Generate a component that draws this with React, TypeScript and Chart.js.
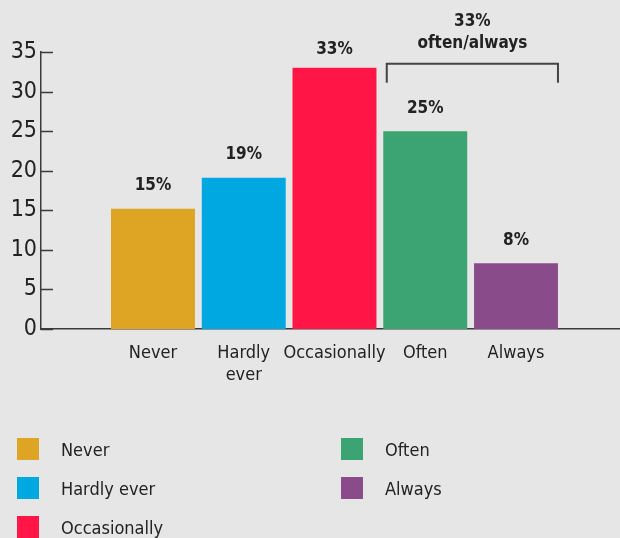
import React, { useEffect, useRef } from "react";
import { Chart, registerables } from "chart.js";
Chart.register(...registerables);

const categories = ["Never", "Hardly ever", "Occasionally", "Often", "Always"];
const tickLabels = [["Never"], ["Hardly", "ever"], ["Occasionally"], ["Often"], ["Always"]];
const values = [15.2, 19.1, 33, 25, 8.3];
const colors = ["#dea423", "#00a8e2", "#ff1546", "#3ca472", "#8a4b8a"];
const yTicks = [0, 5, 10, 15, 20, 25, 30, 35];
const groupLines = ["33%", "often/always"];
const groupRange = [3, 4];
const legendColumns = [[0, 1, 2], [3, 4]];

const FONT = '"Liberation Sans Narrow", "DejaVu Sans Condensed", "Arial Narrow", sans-serif';
const BG = "#e6e6e6";
const INK = "#222";
const AXIS = "#3a3a3a";

const bgPlugin = {
  id: "bg",
  beforeDraw(chart: any) {
    const ctx = chart.ctx;
    ctx.save();
    ctx.fillStyle = BG;
    ctx.fillRect(0, 0, chart.width, chart.height);
    ctx.restore();
  },
};

const innerTicksPlugin = {
  id: "innerTicks",
  afterDraw(chart: any) {
    const ctx = chart.ctx;
    const y = chart.scales.y;
    const left = chart.chartArea.left;
    ctx.save();
    ctx.strokeStyle = AXIS;
    ctx.lineWidth = 1.5;
    y.ticks.forEach((t: any) => {
      const py = Math.round(y.getPixelForValue(t.value)) + 0.5;
      ctx.beginPath();
      ctx.moveTo(left, py);
      ctx.lineTo(left + 12, py);
      ctx.stroke();
    });
    ctx.restore();
  },
};

const dataLabelPlugin = {
  id: "dataLabels",
  afterDatasetsDraw(chart: any) {
    const ctx = chart.ctx;
    const meta = chart.getDatasetMeta(0);
    const top = chart.chartArea.top;
    ctx.save();
    ctx.fillStyle = INK;
    ctx.font = `bold 17px ${FONT}`;
    ctx.textAlign = "center";
    ctx.textBaseline = "middle";
    meta.data.forEach((el: any, i: number) => {
      const ly = Math.max(el.y - 23, top - 2);
      ctx.fillText(Math.round(values[i]) + "%", el.x, ly);
    });
    ctx.restore();
  },
};

const bracketPlugin = {
  id: "bracket",
  afterDatasetsDraw(chart: any) {
    const ctx = chart.ctx;
    const meta = chart.getDatasetMeta(0);
    const y = chart.scales.y;
    const a = meta.data[groupRange[0]];
    const b = meta.data[groupRange[1]];
    const x1 = a.x - a.width / 2 + 3.5;
    const x2 = b.x + b.width / 2;
    const yTop = y.getPixelForValue(33.5);
    const yBot = y.getPixelForValue(31.1);
    ctx.save();
    ctx.strokeStyle = "#444";
    ctx.lineWidth = 2;
    ctx.beginPath();
    ctx.moveTo(x1, yBot);
    ctx.lineTo(x1, yTop);
    ctx.lineTo(x2, yTop);
    ctx.lineTo(x2, yBot);
    ctx.stroke();
    ctx.fillStyle = INK;
    ctx.font = `bold 17px ${FONT}`;
    ctx.textAlign = "center";
    ctx.textBaseline = "middle";
    const cx = (x1 + x2) / 2;
    ctx.fillText(groupLines[0], cx, yTop - 42);
    ctx.fillText(groupLines[1], cx, yTop - 20);
    ctx.restore();
  },
};

const legendPlugin = {
  id: "customLegend",
  afterDraw(chart: any) {
    const ctx = chart.ctx;
    const colX = [17, 341];
    const rowY = [449, 488, 527];
    const size = 22;
    ctx.save();
    ctx.font = `18px ${FONT}`;
    ctx.textBaseline = "middle";
    ctx.textAlign = "left";
    legendColumns.forEach((col, c) => {
      col.forEach((idx, r) => {
        ctx.fillStyle = colors[idx];
        ctx.fillRect(colX[c], rowY[r] - size / 2, size, size);
        ctx.fillStyle = INK;
        ctx.fillText(categories[idx], colX[c] + 44, rowY[r] + 2);
      });
    });
    ctx.restore();
  },
};

export default function App() {
  const ref = useRef<HTMLCanvasElement | null>(null);
  useEffect(() => {
    document.body.style.margin = "0";
    document.body.style.background = BG;
    const canvas = ref.current;
    if (!canvas) return;
    const chart = new Chart(canvas, {
      type: "bar",
      data: {
        datasets: [
          {
            data: values.map((v, i) => ({ x: i + 1, y: v })),
            backgroundColor: colors,
            barPercentage: 1,
            categoryPercentage: 0.925,
          },
        ],
      },
      options: {
        animation: false,
        responsive: false,
        devicePixelRatio: 1,
        layout: { padding: { top: 52, right: 0, bottom: 0, left: 0 } },
        plugins: { legend: { display: false }, tooltip: { enabled: false } },
        scales: {
          x: {
            type: "linear",
            min: -0.234,
            max: 6.146,
            offset: false,
            grid: { display: false, drawTicks: false, offset: false },
            border: { display: true, color: AXIS, width: 1.5 },
            afterBuildTicks: (s: any) => {
              s.ticks = categories.map((_, i) => ({ value: i + 1 }));
            },
            ticks: {
              autoSkip: false,
              maxRotation: 0,
              padding: 14,
              color: INK,
              font: { family: FONT, size: 18 },
              callback: (v: any) => tickLabels[Math.round(v) - 1] ?? "",
            },
            afterFit: (s: any) => {
              s.height = 209;
            },
          },
          y: {
            min: 0,
            max: 35,
            afterBuildTicks: (s: any) => {
              s.ticks = yTicks.map((v) => ({ value: v }));
            },
            grid: { display: false, drawTicks: false },
            border: { display: true, color: AXIS, width: 1.5 },
            ticks: { padding: 4, color: INK, font: { family: FONT, size: 23 } },
            afterFit: (s: any) => {
              s.width = 41;
            },
          },
        },
      } as any,
      plugins: [bgPlugin, innerTicksPlugin, dataLabelPlugin, bracketPlugin, legendPlugin],
    });
    return () => chart.destroy();
  }, []);
  return (
    <div style={{ width: 620, height: 538, background: BG }}>
      <canvas ref={ref} width={620} height={538} style={{ display: "block" }} />
    </div>
  );
}
